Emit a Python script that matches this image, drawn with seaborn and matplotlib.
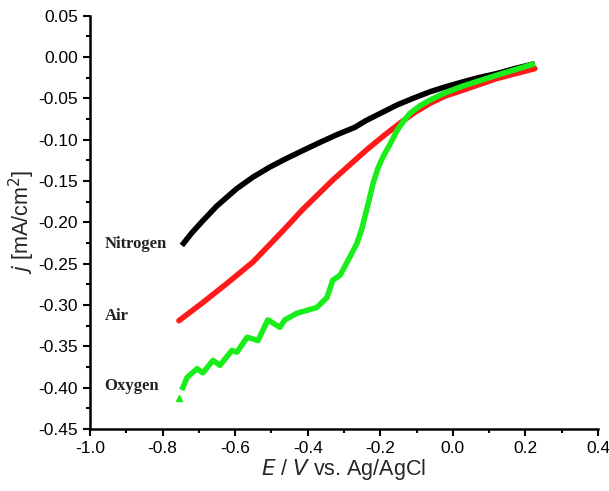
import matplotlib
matplotlib.use("Agg")
import matplotlib.pyplot as plt
import seaborn as sns
import pandas as pd
from matplotlib.ticker import MultipleLocator

# Data
n2_x = [-0.747, -0.720, -0.689, -0.650, -0.595, -0.550, -0.504, -0.460, -0.413, -0.370, -0.320,
        -0.270, -0.240, -0.190, -0.154, -0.110, -0.063, -0.020, 0.028, 0.070, 0.121, 0.170, 0.226]
n2_y = [-0.228, -0.213, -0.198, -0.180, -0.159, -0.145, -0.133, -0.123, -0.113, -0.104, -0.094,
        -0.085, -0.077, -0.066, -0.058, -0.050, -0.042, -0.036, -0.030, -0.025, -0.020, -0.014, -0.008]

air_x = [-0.755, -0.689, -0.623, -0.551, -0.468, -0.413, -0.329, -0.237, -0.190, -0.146, -0.105,
         -0.063, -0.020, 0.028, 0.121, 0.226]
air_y = [-0.319, -0.297, -0.274, -0.248, -0.210, -0.184, -0.148, -0.112, -0.095, -0.080, -0.067,
         -0.056, -0.047, -0.040, -0.026, -0.014]

o2_x = [-0.755, -0.747, -0.733, -0.705, -0.689, -0.661, -0.642, -0.609, -0.595, -0.567, -0.537,
        -0.510, -0.477, -0.463, -0.430, -0.375, -0.347, -0.331, -0.311, -0.284, -0.265, -0.251,
        -0.235, -0.220, -0.207, -0.193, -0.174, -0.154, -0.135, -0.118, -0.091, -0.063, -0.020,
        0.028, 0.121, 0.226]
o2_y = [-0.413, -0.403, -0.388, -0.377, -0.382, -0.367, -0.373, -0.355, -0.357, -0.339, -0.343,
        -0.318, -0.327, -0.318, -0.310, -0.303, -0.291, -0.270, -0.264, -0.242, -0.226, -0.208,
        -0.180, -0.153, -0.135, -0.121, -0.106, -0.089, -0.077, -0.068, -0.059, -0.052, -0.043,
        -0.035, -0.022, -0.008]

labels = ["Nitrogen", "Air", "Oxygen"]
label_y = [-0.226, -0.3135, -0.398]

sns.set_style("ticks")
plt.rcParams['font.family'] = ['Liberation Sans', 'DejaVu Sans']

fig = plt.figure(figsize=(6.09, 4.91), dpi=100)
ax = fig.add_axes([0.1478, 0.1263, 0.8342, 0.8417])

df_n = pd.DataFrame({"E": n2_x, "j": n2_y})
df_a = pd.DataFrame({"E": air_x, "j": air_y})
df_o = pd.DataFrame({"E": o2_x[1:], "j": o2_y[1:]})

sns.lineplot(data=df_n, x="E", y="j", ax=ax, color="black", linewidth=4.0, sort=False,
             solid_capstyle="butt", solid_joinstyle="round")
sns.lineplot(data=df_a, x="E", y="j", ax=ax, color="#ff1a1a", linewidth=4.0, sort=False,
             solid_capstyle="round", solid_joinstyle="round")
sns.lineplot(data=df_o, x="E", y="j", ax=ax, color="#1aee1a", linewidth=4.0, sort=False,
             solid_capstyle="butt", solid_joinstyle="round")
ax.plot([o2_x[0]], [o2_y[0]], marker="^", color="#1aee1a", markersize=5, linestyle="none")

for lab, yy in zip(labels, label_y):
    ax.text(-0.96, yy, lab, fontsize=12, fontweight="bold", family="Liberation Serif",
            va="center", ha="left", color="#222222")

ax.set_xlim(-1.0, 0.4)
ax.set_ylim(-0.45, 0.05)
ax.xaxis.set_major_locator(MultipleLocator(0.2))
ax.xaxis.set_minor_locator(MultipleLocator(0.1))
ax.yaxis.set_major_locator(MultipleLocator(0.05))
ax.yaxis.set_minor_locator(MultipleLocator(0.025))
ax.xaxis.set_major_formatter(matplotlib.ticker.FuncFormatter(lambda v, p: f"{v:.1f}".replace("-0.0", "0.0")))
ax.yaxis.set_major_formatter(matplotlib.ticker.FuncFormatter(lambda v, p: f"{v:.2f}".replace("-0.00", "0.00")))

for s in ["top", "right"]:
    ax.spines[s].set_visible(False)
for s in ["left", "bottom"]:
    ax.spines[s].set_linewidth(1.8)
    ax.spines[s].set_color("black")

ax.tick_params(which="major", direction="out", length=5, width=1.5, labelsize=12.5, colors="black")
ax.tick_params(which="minor", direction="out", length=3, width=1.5, colors="black")

ax.set_xlabel(r"$\it{E}$ / $\it{V}$ vs. Ag/AgCl", fontsize=15.5, labelpad=1)
ax.set_ylabel(r"$\it{j}$ [mA/cm$^2$]", fontsize=15.5, labelpad=1)

fig.savefig("out.png", dpi=100)
